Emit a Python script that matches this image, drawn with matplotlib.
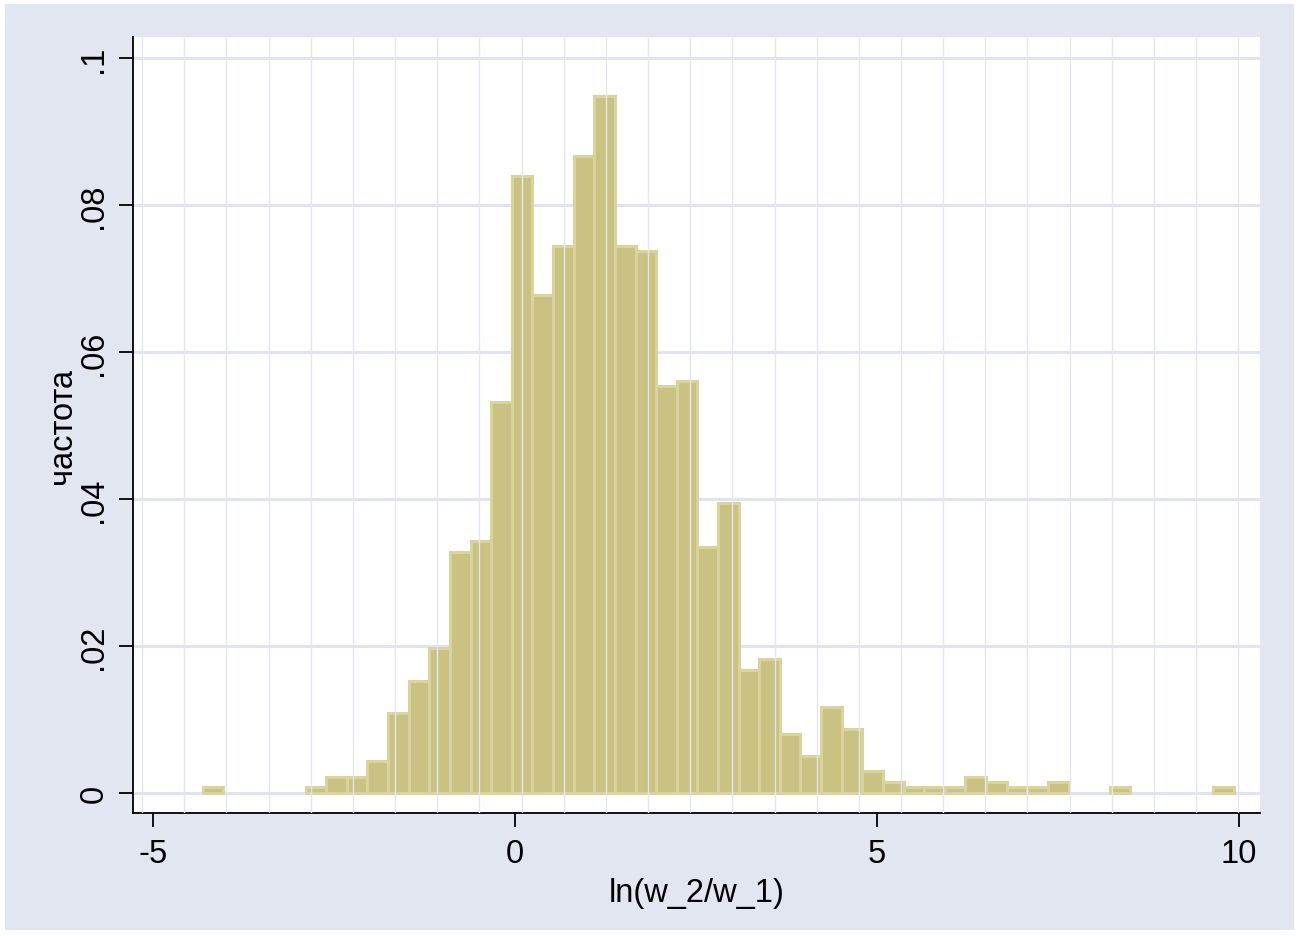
import numpy as np
import matplotlib
matplotlib.use('Agg')
import matplotlib.pyplot as plt
from matplotlib.patches import Rectangle

plt.rcParams['font.family'] = ['Liberation Sans', 'DejaVu Sans']

# Histogram data (fraction per bin)
bin_start = -4.316
bin_width = 0.2848
heights = [0.00075, 0, 0, 0, 0, 0.00075, 0.00224, 0.00224, 0.00433, 0.01095,
           0.01527, 0.01976, 0.0328, 0.0343, 0.0532, 0.0839, 0.0678, 0.0744, 0.0867, 0.0948,
           0.0744, 0.0737, 0.0554, 0.0561, 0.0335, 0.0394, 0.01676, 0.01826, 0.00805, 0.00506,
           0.01167, 0.00873, 0.00302, 0.00147, 0.00075, 0.00075, 0.00075, 0.00224, 0.00152, 0.00075,
           0.00075, 0.00152, 0, 0, 0.00075, 0, 0, 0, 0, 0.00075]

x_ticks = [-5, 0, 5, 10]
x_ticklabels = ['-5', '0', '5', '10']
y_ticks = [0, 0.02, 0.04, 0.06, 0.08, 0.1]
y_ticklabels = ['0', '.02', '.04', '.06', '.08', '.1']

# Colours (Stata s2color look)
bg = '#e1e6f0'
grid_col = '#dfe4ef'
fill = '#c9c282'
edge = '#d9d49f'

fig = plt.figure(figsize=(13.01, 9.37), dpi=100, facecolor='white')
fig.patches.append(Rectangle((5 / 1301, 6 / 937), 1289 / 1301, 926 / 937,
                             transform=fig.transFigure, facecolor=bg, edgecolor='none', zorder=-10))
ax = fig.add_axes([133 / 1301, 1 - 814 / 937, (1260 - 133) / 1301, (814 - 38) / 937])
ax.set_facecolor('white')

ax.set_xlim(-5.276, 10.29)
ax.set_ylim(-0.00272, 0.10286)

# horizontal grid behind the bars
ax.set_axisbelow(True)
ax.grid(axis='y', color=grid_col, linewidth=2.2)
ax.grid(axis='x', visible=False)

# bars (skip empty bins)
lefts = [bin_start + i * bin_width for i in range(len(heights))]
keep = [i for i, h in enumerate(heights) if h > 0]
ax.bar([lefts[i] for i in keep], [heights[i] for i in keep], width=bin_width, align='edge',
       color=fill, edgecolor=edge, linewidth=2.2, zorder=2)

# thin vertical grid lines drawn over the bars
grid_x = np.linspace(-5.15, 9.99, 27)
ax.vlines(grid_x, -0.00272, 0.10286, color='#e2e6f0', linewidth=1.0, zorder=3)

ax.set_xticks(x_ticks)
ax.set_xticklabels(x_ticklabels)
ax.set_yticks(y_ticks)
ax.set_yticklabels(y_ticklabels, rotation=90, va='center')

ax.tick_params(axis='both', length=10, width=1.3, color='black', labelsize=23.5, direction='out')
ax.tick_params(axis='x', pad=8)
ax.tick_params(axis='y', pad=7)

for s in ['top', 'right']:
    ax.spines[s].set_visible(False)
for s in ['left', 'bottom']:
    ax.spines[s].set_linewidth(1.3)
    ax.spines[s].set_color('black')

ax.set_xlabel('ln(w_2/w_1)', fontsize=23.5, labelpad=6)
ax.set_ylabel('частота', fontsize=23.5, labelpad=0)

fig.savefig('out.png', dpi=100, facecolor='white')
